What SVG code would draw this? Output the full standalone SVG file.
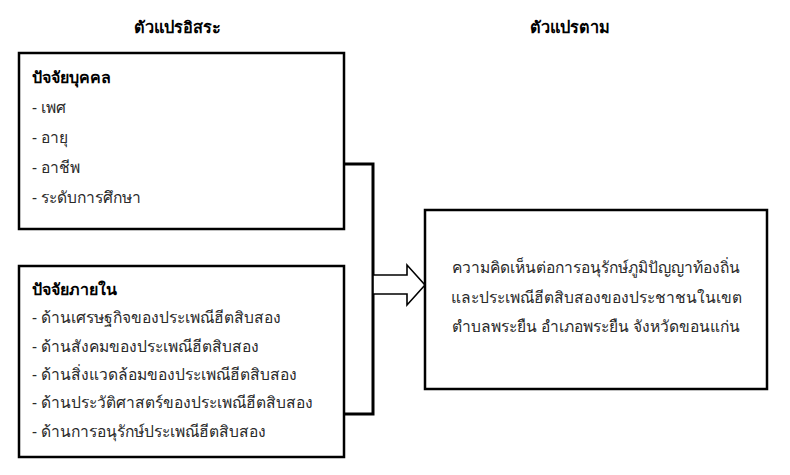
<svg xmlns="http://www.w3.org/2000/svg" width="790" height="475" viewBox="0 0 790 475">
<style>
text{font-family:"Noto Sans","DejaVu Sans",sans-serif;fill:#000}
.h{font-size:16.3px;font-weight:bold}
.t{font-size:16px;font-weight:bold}
.b{font-size:15.6px;fill:#2a2a2a}
.box{fill:#fff;stroke:#000;stroke-width:2.5}
.con{fill:none;stroke:#000;stroke-width:3}
</style>
<rect width="790" height="475" fill="#fff"/>
<g id="headers">
<text class="h" x="177" y="33" text-anchor="middle">ตัวแปรอิสระ</text>
<text class="h" x="570" y="33" text-anchor="middle">ตัวแปรตาม</text>
</g>
<g id="connectors">
<polyline class="con" points="344,164 373,164 373,414 344,414"/>
<polygon points="373,275 407,275 407,265 425,285 407,305 407,294 373,294" fill="#fff" stroke="#000" stroke-width="1.6"/>
</g>
<g id="personal">
<rect class="box" x="19" y="53" width="325" height="176"/>
<text class="t" x="32" y="83">ปัจจัยบุคคล</text>
<text class="b" x="32" y="113">- เพศ</text>
<text class="b" x="32" y="143">- อายุ</text>
<text class="b" x="32" y="173">- อาชีพ</text>
<text class="b" x="32" y="203">- ระดับการศึกษา</text>
</g>
<g id="internal">
<rect class="box" x="19" y="266" width="325" height="191"/>
<text class="t" x="32" y="295">ปัจจัยภายใน</text>
<text class="b" x="32" y="323">- ด้านเศรษฐกิจของประเพณีฮีตสิบสอง</text>
<text class="b" x="32" y="352">- ด้านสังคมของประเพณีฮีตสิบสอง</text>
<text class="b" x="32" y="380">- ด้านสิ่งแวดล้อมของประเพณีฮีตสิบสอง</text>
<text class="b" x="32" y="408">- ด้านประวัติศาสตร์ของประเพณีฮีตสิบสอง</text>
<text class="b" x="32" y="437">- ด้านการอนุรักษ์ประเพณีฮีตสิบสอง</text>
</g>
<g id="dependent">
<rect class="box" x="425" y="210" width="342" height="179"/>
<text class="b" x="596" y="273" text-anchor="middle">ความคิดเห็นต่อการอนุรักษ์ภูมิปัญญาท้องถิ่น</text>
<text class="b" x="596" y="303" text-anchor="middle">และประเพณีฮีตสิบสองของประชาชนในเขต</text>
<text class="b" x="596" y="332" text-anchor="middle">ตำบลพระยืน อำเภอพระยืน จังหวัดขอนแก่น</text>
</g>
</svg>
